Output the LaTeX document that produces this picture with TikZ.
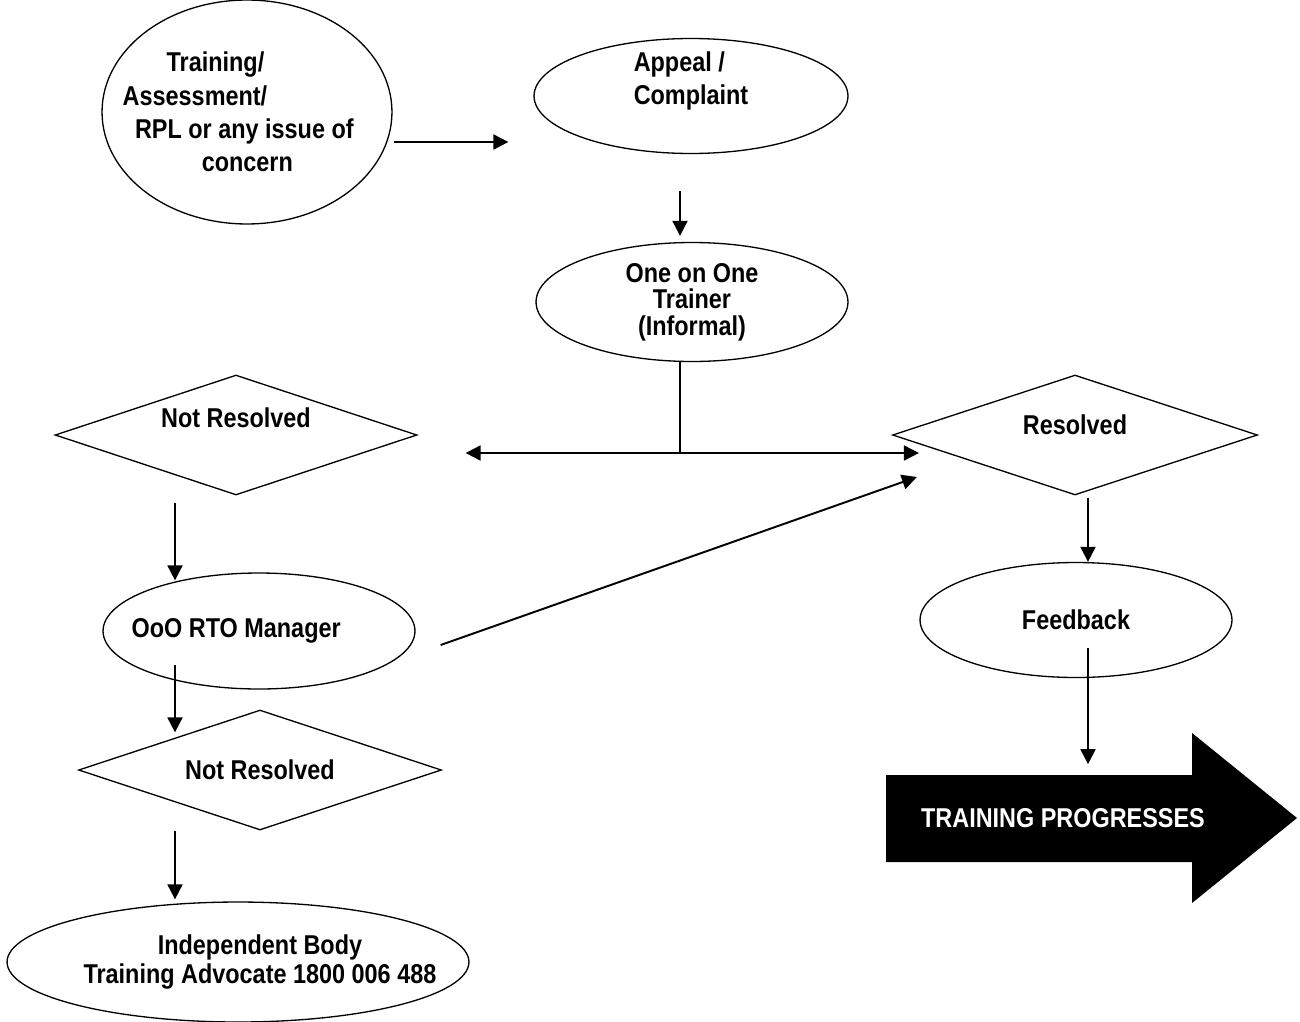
\documentclass[tikz,border=0pt]{standalone}
\usepackage{fontspec}
\setmainfont{Liberation Sans}[FakeStretch=0.86]
\usetikzlibrary{shapes.geometric,arrows.meta,calc}

\tikzset{
	every node/.style={font=\fontsize{15.5}{16}\selectfont\bfseries},
	oval/.style={ellipse,draw,line width=0.75pt,inner sep=-25pt},
	choice/.style={diamond,draw,aspect=3,line width=0.75pt,inner sep=0pt,minimum width=7.26cm,minimum height=2.4cm},
	flow/.style={->,line width=1.1pt}
}

\begin{document}
\begin{tikzpicture}[x=0.02cm,y=-0.02cm,>={Triangle[length=8.5pt,width=8.5pt]}]
	\useasboundingbox (0,0) rectangle (1300,1021);
	\node[oval,minimum width=5.8cm,minimum height=4.48cm,align=left,font=\fontsize{15.5}{19}\selectfont\bfseries](issue) at (247,112)
		{\hspace*{15pt}Training/\\\hspace*{-10pt}Assessment/\\\hspace*{-3pt}RPL or any issue of\\\hspace*{35pt}concern};
	\node[oval,minimum width=6.28cm,minimum height=2.3cm,align=left,font=\fontsize{15.5}{19}\selectfont\bfseries,text height=10pt,text depth=0pt](appeal) at (691,96)
		{Appeal /\\Complaint};
	\node[oval,minimum width=6.24cm,minimum height=2.38cm,align=center,font=\fontsize{15.5}{15}\selectfont\bfseries](trainer) at (692,302)
		{One on One\\Trainer\\(Informal)};
	\node[choice,minimum width=7.24cm,text height=0pt,text depth=9pt](nres1) at (236,435){Not Resolved};
	\node[choice,minimum width=7.3cm,text height=0pt,text depth=1pt](res) at (1075,435){Resolved};
	\node[oval,minimum width=6.24cm,minimum height=2.32cm](rto) at (259,631){OoO RTO Manager\hspace*{26pt}};
	\node[choice](nres2) at (260,770){Not Resolved};
	\node[oval,minimum width=9.24cm,minimum height=2.4cm,align=center,font=\fontsize{15.5}{17}\selectfont\bfseries](indep) at (238,962)
		{\hspace*{25pt}Independent Body\\\hspace*{25pt}Training Advocate 1800 006 488};
	\node[oval,minimum width=6.24cm,minimum height=2.3cm](feed) at (1076,620){Feedback};
	\fill (886,775) -- (1192,775) -- (1192,733) -- (1297,818) -- (1192,903) -- (1192,862) -- (886,862) -- cycle;
	\node[text=white,minimum height=1.74cm](prog) at (1063,818){TRAINING PROGRESSES};

	\draw[flow] ($(issue.east)+(1,30)$) -- ($(appeal.west)+(-25,46)$);
	\draw[flow] ($(appeal.south)+(-11,37)$) -- ($(trainer.north)+(-12,-6)$);
	\coordinate (split) at ($(trainer.south)+(-12,91)$);
	\draw[line width=0.6pt] ($(trainer.south)+(-12,0)$) -- (split);
	\draw[flow,<->] ($(nres1.east)+(48,18)$) -- ($(res.west)+(27,18)$);
	\draw[flow] ($(nres1.south)+(-61,7)$) -- ($(rto.north)+(-84,8)$);
	\draw[flow] ($(rto.center)+(-84,34)$) -- ($(nres2.north)+(-85,23)$);
	\draw[flow] ($(rto.east)+(25,14)$) -- ($(res.west)+(25,42)$);
	\draw[flow] ($(nres2.south)+(-85,0)$) -- ($(indep.north)+(-63,-2)$);
	\draw[flow] ($(res.south)+(13,2)$) -- ($(feed.north)+(12,0)$);
	\draw[flow] ($(feed.center)+(12,28)$) -- ($(prog.north)+(25,-10)$);
\end{tikzpicture}
\end{document}
